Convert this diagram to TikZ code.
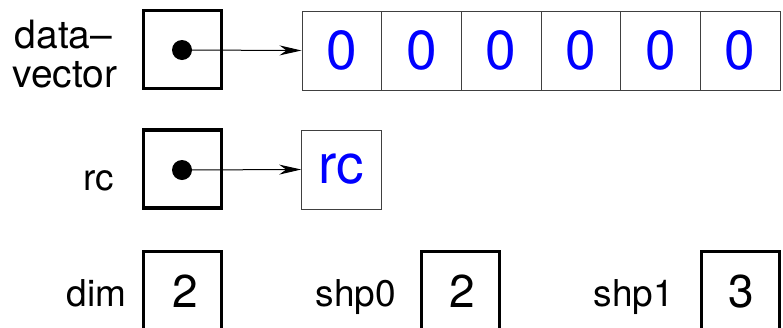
\documentclass[tikz,border=0pt]{standalone}
\usepackage{fontspec}
\setmainfont{TeX Gyre Heros}
\usetikzlibrary{arrows.meta}
\definecolor{valblue}{RGB}{0,0,255}
\definecolor{thingray}{gray}{0.25}
\begin{document}
\begin{tikzpicture}[x=1pt,y=1pt,
  ptrbox/.style={draw=black,line width=3.5pt,minimum size=78pt,inner sep=0pt},
  valbox/.style={draw=black,line width=3pt,minimum width=78pt,minimum height=120pt,inner sep=0pt},
  valtext/.style={anchor=base,inner sep=0pt,font=\fontsize{46}{50}\selectfont},
  cellbox/.style={draw=thingray,line width=1pt,minimum width=79.67pt,minimum height=79pt,inner sep=0pt,
     text=valblue,font=\fontsize{55}{58}\selectfont},
  ptrdot/.style={circle,fill=black,minimum size=20pt,inner sep=0pt},
  lbl/.style={anchor=base,inner sep=0pt,font=\fontsize{37}{40}\selectfont},
  biglbl/.style={lbl,font=\fontsize{39}{42}\selectfont},
  ptrarrow/.style={line width=1pt,-{Stealth[length=22pt,width=10pt,inset=7pt]}}
]
\useasboundingbox (0,0) rectangle (783,-327);
\clip (0,0) rectangle (783,-327);

% data-vector row
\node[biglbl] (lbldata) at (63.5,-48) {data–};
\node[biglbl] (lblvec) at (65,-87) {vector};
\node[ptrbox] (dvbox) at (182.5,-49.5) {};
\node[ptrdot] (dvdot) at (182,-50) {};
\foreach \i in {0,...,5}{
  \node[cellbox] (cell\i) at ({302+79.67*(\i+0.5)},-50.5) {0};
}
\draw[ptrarrow] (dvdot.center) -- (cell0.west);

% rc row
\node[lbl] (lblrc) at (99,-190) {rc};
\node[ptrbox] (rcbox) at (182.5,-169) {};
\node[ptrdot] (rcdot) at (182,-170) {};
\node[cellbox] (rcval) at (341.5,-169.5) {rc};
\draw[ptrarrow] (rcdot.center) -- (rcval.west);

% bottom row (boxes run past the lower edge of the picture)
\node[lbl] (lbldim) at (96.5,-306) {dim};
\node[valbox,anchor=north] (dimbox) at (182.5,-249.5) {};
\node[valtext] (dimval) at (185,-307) {2};
\node[lbl] (lblshp0) at (356,-306) {shp0};
\node[valbox,anchor=north] (shp0box) at (460.5,-249.5) {};
\node[valtext] (shp0val) at (462,-307) {2};
\node[lbl] (lblshp1) at (634,-306) {shp1};
\node[valbox,anchor=north] (shp1box) at (740,-249.5) {};
\node[valtext] (shp1val) at (741.5,-307) {3};
\end{tikzpicture}
\end{document}
